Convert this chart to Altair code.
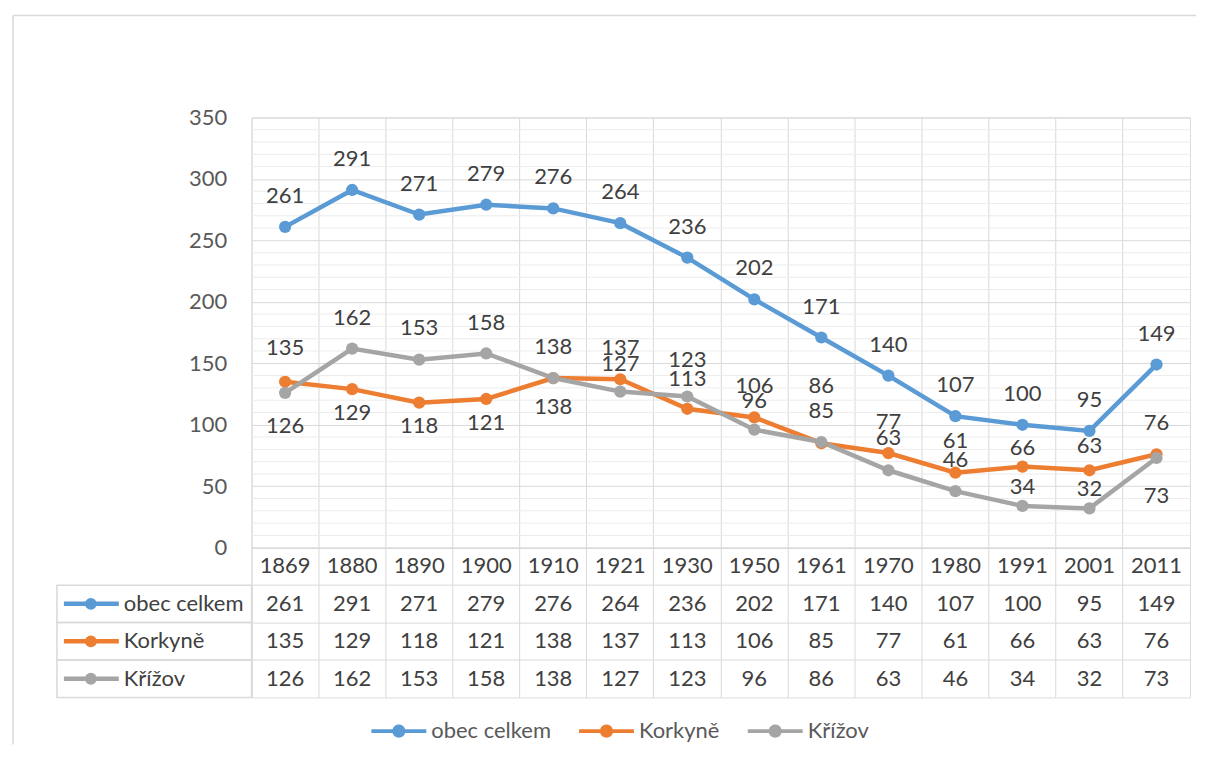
import altair as alt
import pandas as pd

years = ["1869", "1880", "1890", "1900", "1910", "1921", "1930",
         "1950", "1961", "1970", "1980", "1991", "2001", "2011"]
series_names = ["obec celkem", "Korkyně", "Křížov"]
obec = [261, 291, 271, 279, 276, 264, 236, 202, 171, 140, 107, 100, 95, 149]
korkyne = [135, 129, 118, 121, 138, 137, 113, 106, 85, 77, 61, 66, 63, 76]
krizov = [126, 162, 153, 158, 138, 127, 123, 96, 86, 63, 46, 34, 32, 73]
colors = ["#5B9BD5", "#ED7D31", "#A5A5A5"]
y_ticks = [0, 50, 100, 150, 200, 250, 300, 350]
minor_ticks = [v for v in range(10, 350, 10) if v % 50 != 0]

# label placement offsets in pixels (negative = above the point)
obec_dy = [-31] * 14
korkyne_dy = [-34, 24, 23, 24, -31, -31, -30, -31, -32, -31, -32, -19, -24, -31]
krizov_dy = [33, -31, -32, -31, 29, -28, -37, -29, -56, -32, -31, -19, -19, 38]

W, H = 940, 431
ROW_H = 37.5
FONT = "Lato"
FS = 22
TXT = "#404040"
GRID = "#d9d9d9"

rows = []
for name, vals, dys in zip(series_names, [obec, korkyne, krizov], [obec_dy, korkyne_dy, krizov_dy]):
    for y, v, d in zip(years, vals, dys):
        rows.append({"year": y, "series": name, "value": v, "dy": d})
df = pd.DataFrame(rows)

row_domain = ["hdr"] + series_names
tbl_rows = [{"year": y, "row": "hdr", "label": y} for y in years]
for name, vals in zip(series_names, [obec, korkyne, krizov]):
    for y, v in zip(years, vals):
        tbl_rows.append({"year": y, "row": name, "label": str(v)})
tbl_df = pd.DataFrame(tbl_rows)
leg_df = pd.DataFrame({"row": series_names, "series": series_names})

# legend glyph: a bar with a dot in the middle (filled outline)
sym_path = ("M-1,-0.07L-0.2296,-0.07A0.24,0.24,0,0,1,0.2296,-0.07L1,-0.07L1,0.07"
            "L0.2296,0.07A0.24,0.24,0,0,1,-0.2296,0.07L-1,0.07Z")
leg = alt.Legend(
    orient="none", legendX=120, legendY=587, direction="horizontal", title=None,
    symbolType=sym_path, symbolSize=3025, symbolStrokeWidth=0, symbolOpacity=1,
    labelFont=FONT, labelFontSize=FS, labelColor="#595959", labelOffset=5,
    columnPadding=28,
)
color_scale = alt.Scale(domain=series_names, range=colors)
# same colours, listed in reverse so these scales stay separate from the legend's
alt_scale = alt.Scale(domain=series_names[::-1], range=colors[::-1])
color_enc = alt.Color("series:N", scale=color_scale, legend=leg, sort=series_names)
stroke_enc = alt.Stroke("series:N", scale=alt_scale, legend=None)
fill_enc = alt.Fill("series:N", scale=alt_scale, legend=None)

x_axis = alt.Axis(labels=False, ticks=False, domain=False, grid=True,
                  gridColor=GRID, bandPosition=0, title=None)
x_enc = alt.X("year:N", sort=years,
              scale=alt.Scale(type="band", domain=years, paddingInner=0, paddingOuter=0),
              axis=x_axis)
y_scale = alt.Scale(domain=[0, 350], nice=False, zero=True)
y_enc = alt.Y("value:Q", scale=y_scale,
              axis=alt.Axis(values=y_ticks, domain=False, ticks=False, grid=True,
                            gridColor=GRID, labelPadding=25, labelFontSize=FS,
                            labelFont=FONT, labelColor="#595959", title=None))

minor = alt.Chart(pd.DataFrame({"value": minor_ticks})).mark_rule(
    color="#ececec", strokeWidth=1).encode(y=alt.Y("value:Q", scale=y_scale))

base = alt.Chart(df)
lines = base.mark_line(strokeWidth=4.5).encode(x=x_enc, y=y_enc, stroke=stroke_enc)
points = base.mark_point(filled=True, size=150, opacity=1).encode(
    x=x_enc, y=y_enc, color=color_enc)
labels = base.transform_calculate(
    ly=f"datum.value - datum.dy * {350 / H}"
).mark_text(font=FONT, fontSize=FS, color=TXT, baseline="middle", align="center").encode(
    x=x_enc, y=alt.Y("ly:Q", scale=y_scale), text=alt.Text("value:Q"))

one = pd.DataFrame({"a": [0]})
border_v = alt.Chart(one).mark_rule(color=GRID, strokeWidth=1.5).encode(
    x=alt.value(-239), y=alt.value(-102), y2=alt.value(628))
border_h = alt.Chart(one).mark_rule(color=GRID, strokeWidth=1.5).encode(
    x=alt.value(-239), x2=alt.value(946), y=alt.value(-102))

top = alt.layer(minor, border_v, border_h, lines, points, labels).properties(width=W, height=H)

# data table
row_scale = alt.Scale(type="band", domain=row_domain, paddingInner=0, paddingOuter=0)
row_axis = alt.Axis(labels=False, ticks=False, domain=False, grid=True,
                    gridColor=GRID, bandPosition=0, title=None)
ty = alt.Y("row:N", scale=row_scale, axis=row_axis, sort=row_domain)
tbl_text = alt.Chart(tbl_df).mark_text(font=FONT, fontSize=FS, color=TXT,
                                       baseline="middle", align="center").encode(
    x=x_enc, y=ty, text="label:N")
left_cells = alt.Chart(leg_df).mark_rect(fill="transparent", stroke=GRID, strokeWidth=1.5).encode(
    x=alt.value(-195), x2=alt.value(0), y=ty)
glyph_line = alt.Chart(leg_df).mark_rule(strokeWidth=4.5).encode(
    x=alt.value(-188), x2=alt.value(-133), y=ty, stroke=stroke_enc)
glyph_pt = alt.Chart(leg_df).mark_point(filled=True, size=140, opacity=1).encode(
    x=alt.value(-161), y=ty, fill=fill_enc)
row_names = alt.Chart(leg_df).mark_text(font=FONT, fontSize=FS, color=TXT,
                                        align="left", baseline="middle").encode(
    x=alt.value(-128), y=ty, text="row:N")
bottom = alt.layer(left_cells, tbl_text, glyph_line, glyph_pt, row_names).properties(
    width=W, height=ROW_H * 4)

chart = alt.vconcat(top, bottom, spacing=0, bounds="flush").properties(
    padding={"left": 3, "top": 5, "right": 0, "bottom": 0}
).configure_view(stroke=GRID, strokeWidth=1.5).configure(background="white")

chart.save("out.html", embed_options={"renderer": "svg", "actions": False})
